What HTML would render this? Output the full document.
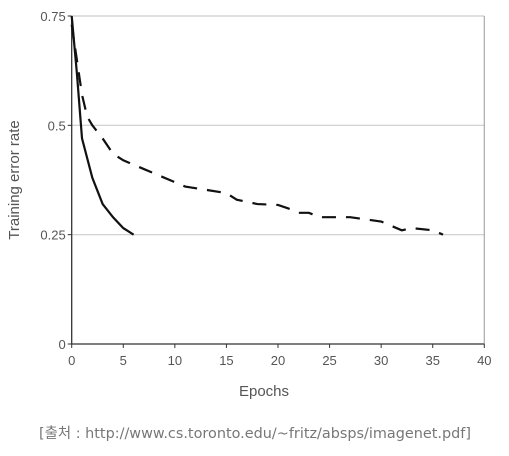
<!DOCTYPE html>
<html><head><meta charset="utf-8"><style>
body{margin:0;background:#fff;width:509px;height:451px;overflow:hidden}
text{font-family:"Liberation Sans",sans-serif}
</style></head><body>
<svg width="509" height="451" viewBox="0 0 509 451" xmlns="http://www.w3.org/2000/svg">
<g id="grid"></g><g id="axes"></g><g id="series"></g>
<text transform="translate(19,180) rotate(-90)" text-anchor="middle" font-size="15" fill="#555">Training error rate</text>
<text x="264" y="396" text-anchor="middle" font-size="15" fill="#555">Epochs</text>
<text x="255" y="438" text-anchor="middle" font-size="14.5" fill="#777" textLength="432" lengthAdjust="spacingAndGlyphs" style="font-family:'DejaVu Sans','Noto Sans CJK KR',sans-serif">[출처 : http://www.cs.toronto.edu/~fritz/absps/imagenet.pdf]</text>
</svg>
<script>
const xTicks=[0,5,10,15,20,25,30,35,40];
const yTicks=[0,0.25,0.5,0.75];
const yTickLabels=["0","0.25","0.5","0.75"];
const solidX=[0,0.5,1,2,3,4,5,6];
const solidY=[0.75,0.62,0.47,0.38,0.32,0.29,0.265,0.25];
const dashX=[0,1,1.5,2,3,4,5,7,8,10,11,15,16,18,20,21,22,23,24,27,30,32,33,35,36];
const dashY=[0.73,0.57,0.52,0.5,0.47,0.435,0.42,0.40,0.39,0.37,0.36,0.345,0.33,0.32,0.318,0.31,0.30,0.30,0.29,0.29,0.28,0.26,0.265,0.26,0.25];
const X0=71.7,X1=484.3,Y0=344,Y1=16;
const sx=v=>X0+(X1-X0)*v/40, sy=v=>Y0-(Y0-Y1)*v/0.75;
const NS="http://www.w3.org/2000/svg";
function mk(t,a,p){const e=document.createElementNS(NS,t);for(const k in a)e.setAttribute(k,a[k]);p.appendChild(e);return e;}
const grid=document.getElementById('grid'),axes=document.getElementById('axes'),series=document.getElementById('series');
yTicks.forEach((v,i)=>{
 if(v>0){const g=mk('line',{x1:X0,x2:X1,y1:sy(v),y2:sy(v),stroke:'#ccc','stroke-width':1.2},grid);
 }
 const t=mk('line',{x1:X0-4,x2:X0,y1:sy(v),y2:sy(v),stroke:'#333'},axes);
 
 const l=mk('text',{x:X0-6,y:sy(v)+5,'text-anchor':'end','font-size':13,fill:'#555'},axes);l.textContent=yTickLabels[i];
 
});
const rb=mk('line',{x1:X1,x2:X1,y1:Y1,y2:Y0,stroke:'#aaa','stroke-width':1.2},axes);

const ya=mk('line',{x1:X0,x2:X0,y1:Y1,y2:Y0,stroke:'#333','stroke-width':1.3},axes);

const xa=mk('line',{x1:X0,x2:X1,y1:Y0,y2:Y0,stroke:'#333','stroke-width':1.3},axes);

xTicks.forEach(v=>{
 const t=mk('line',{x1:sx(v),x2:sx(v),y1:Y0,y2:Y0+4,stroke:'#333'},axes);
 
 const l=mk('text',{x:sx(v),y:Y0+21,'text-anchor':'middle','font-size':13,fill:'#555'},axes);l.textContent=v;
 
});
const p1=mk('polyline',{points:solidX.map((x,i)=>sx(x)+','+sy(solidY[i])).join(' '),fill:'none',stroke:'#111','stroke-width':2.2},series);

const p2=mk('polyline',{points:dashX.map((x,i)=>sx(x)+','+sy(dashY[i])).join(' '),fill:'none',stroke:'#111','stroke-width':2.2,'stroke-dasharray':'14,10'},series);

</script>
</body></html>
